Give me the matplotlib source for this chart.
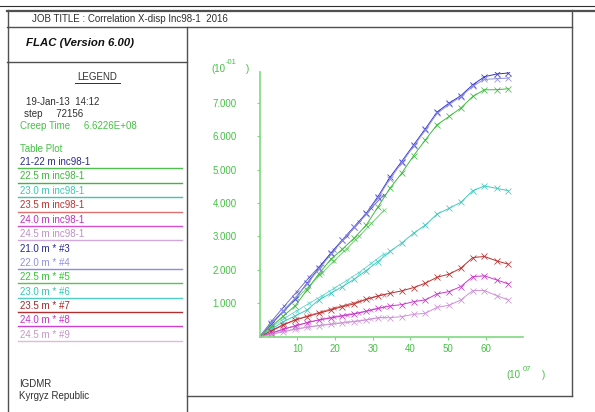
import matplotlib.pyplot as plt
from matplotlib.lines import Line2D

plt.rcParams['font.family'] = ['Liberation Sans', 'DejaVu Sans']

W, H = 595, 412

# model histories (creep time, 10^07) -- x positions of the history points
t_hist = [0.0, 3.1, 6.3, 9.4, 12.6, 15.7, 18.9, 22.0, 25.1, 28.3, 31.4,
          34.6, 37.7, 40.9, 44.0, 47.1, 50.3, 53.4, 56.6, 59.7, 62.9, 66.0]
h3 = [0, 0.38, 0.76, 1.13, 1.60, 2.05, 2.50, 2.90, 3.29, 3.69, 4.19,
      4.77, 5.24, 5.74, 6.22, 6.72, 6.99, 7.21, 7.54, 7.78, 7.86, 7.89]
h4 = [0, 0.40, 0.78, 1.15, 1.58, 2.02, 2.46, 2.88, 3.27, 3.66, 4.15,
      4.72, 5.20, 5.70, 6.18, 6.68, 6.95, 7.18, 7.50, 7.70, 7.72, 7.74]
h5 = [0, 0.30, 0.62, 0.92, 1.40, 1.88, 2.32, 2.62, 2.95, 3.34, 3.88,
      4.44, 4.89, 5.42, 5.89, 6.34, 6.59, 6.84, 7.19, 7.39, 7.39, 7.42]
h6 = [0, 0.22, 0.45, 0.62, 0.80, 1.10, 1.30, 1.50, 1.72, 1.98, 2.25,
      2.55, 2.80, 3.10, 3.34, 3.67, 3.84, 4.02, 4.37, 4.51, 4.44, 4.37]
h7 = [0, 0.17, 0.35, 0.50, 0.60, 0.70, 0.80, 0.90, 0.98, 1.12, 1.22,
      1.30, 1.37, 1.47, 1.60, 1.78, 1.87, 2.05, 2.37, 2.40, 2.27, 2.17]
h8 = [0, 0.10, 0.22, 0.32, 0.42, 0.50, 0.56, 0.62, 0.68, 0.76, 0.85,
      0.92, 0.96, 1.05, 1.10, 1.28, 1.35, 1.50, 1.80, 1.82, 1.70, 1.58]
h9 = [0, 0.07, 0.15, 0.22, 0.28, 0.33, 0.37, 0.41, 0.45, 0.50, 0.57,
      0.57, 0.60, 0.67, 0.70, 0.88, 0.94, 1.10, 1.38, 1.38, 1.23, 1.10]

# inclinometer inc98-1 tables
t_tab = [0.0, 3.3, 6.6, 9.9, 13.2, 16.5, 19.8, 23.1, 26.4, 29.7, 33.0]
tab_21 = [0, 0.48, 0.92, 1.35, 1.78, 2.18, 2.60, 3.00, 3.42, 3.85, 4.25]
tab_225 = [0, 0.40, 0.78, 1.15, 1.52, 1.90, 2.27, 2.63, 3.00, 3.39, 3.78]
tab_23 = [0, 0.30, 0.55, 0.78, 1.00, 1.22, 1.45, 1.68, 1.92, 2.20, 2.48]
tab_235 = [0, 0.20, 0.38, 0.52, 0.64, 0.75, 0.86, 0.96, 1.06, 1.16, 1.26]
tab_24 = [0, 0.12, 0.24, 0.34, 0.44, 0.52, 0.60, 0.66, 0.72, 0.80, 0.88]
tab_245 = [0, 0.08, 0.16, 0.24, 0.30, 0.35, 0.40, 0.44, 0.48, 0.53, 0.58]

x_ticks = [10, 20, 30, 40, 50, 60]
y_ticks = [1, 2, 3, 4, 5, 6, 7]

tab_names = ['21-22 m inc98-1', '22.5 m inc98-1', '23.0 m inc98-1',
             '23.5 m inc98-1', '24.0 m inc98-1', '24.5 m inc98-1']
hist_names = ['21.0 m * #3', '22.0 m * #4', '22.5 m * #5', '23.0 m * #6',
              '23.5 m * #7', '24.0 m * #8', '24.5 m * #9']

green = '#46c046'
axgreen = '#80d880'
tab_cols = ['#4646c0', '#46c046', '#46ccc4', '#d04646', '#cc46cc', '#cc9ad6']
tab_text = ['#2c2c8c', '#3cb83c', '#3cc8b4', '#c03030', '#c030c0', '#c090c8']
tab_line = ['#50c050', '#3cb83c', '#3cc8b4', '#e07070', '#d050d0', '#d0a8dc']
hist_cols = ['#3434c8', '#9090ea', '#40bc40', '#40cac2', '#bc3030', '#cc38cc', '#cc92d6']
hist_text = ['#28288c', '#9090e0', '#32c832', '#32c8b4', '#a02828', '#c832c8', '#c896c8']
hist_line = [None, '#8c8ce8', '#50c850', '#50d0c0', '#b03030', '#d040d0', '#e0b8e0']

fig = plt.figure(figsize=(W / 100, H / 100), dpi=100)


def fx(x):
    return x / W


def fy(y):
    return 1 - y / H


def hline(y, x0, x1, lw=1.0, c='#505050'):
    fig.add_artist(Line2D([fx(x0), fx(x1)], [fy(y), fy(y)], lw=lw, color=c))


def vline(x, y0, y1, lw=1.0, c='#505050'):
    fig.add_artist(Line2D([fx(x), fx(x)], [fy(y0), fy(y1)], lw=lw, color=c))


def txt(x, y, s, c='#303030', size=7, **kw):
    fig.text(fx(x), fy(y), s, color=c, fontsize=size, va='center', ha='left', **kw)


# page frame
hline(5.5, 0, 595, lw=0.8, c='#303030')
hline(10.5, 7, 595, lw=1.6, c='#505050')
vline(7.5, 10, 412)
hline(27, 7, 571.5)
vline(571.5, 10, 396)
hline(62, 7, 187)
vline(187, 27, 412)
hline(396, 187, 571.5)

# header and legend panel
txt(32, 19, 'JOB TITLE : Correlation X-disp Inc98-1  2016', size=7)
txt(26, 43, 'FLAC (Version 6.00)', c='#101010', size=8.2, weight='bold', style='italic')
fig.text(fx(97), fy(77), 'LEGEND', color='#303030', fontsize=7, ha='center', va='center')
hline(82.5, 75, 119.5, lw=0.7, c='#303030')
txt(26, 102, '19-Jan-13  14:12')
txt(24, 114, 'step     72156')
txt(20, 126, 'Creep Time     6.6226E+08', c=green)
txt(20, 149, 'Table Plot', c=green)

row_y = 162.0
for name, tc, lc in zip(tab_names, tab_text, tab_line):
    txt(20, row_y, name, c=tc)
    hline(row_y + 6.2, 18, 182, lw=1.0, c=lc)
    row_y += 14.45
for name, tc, lc in zip(hist_names, hist_text, hist_line):
    txt(20, row_y, name, c=tc)
    if lc is not None:
        hline(row_y + 6.2, 18, 182, lw=1.0, c=lc)
    row_y += 14.3

txt(19, 384, 'IGDMR')
txt(19, 396, 'Kyrgyz Republic')

# plot area
ax = fig.add_axes([fx(259.6), fy(336.7), (523.3 - 259.6) / W, (336.7 - 71.7) / H])
ax.set_xlim(0, 70)
ax.set_ylim(0, 7.93)

for t_y, c in zip([tab_21, tab_225, tab_23, tab_235, tab_24, tab_245], tab_cols):
    ax.plot(t_tab, t_y, color=c, lw=0.65, marker='x', ms=3.5, mew=0.5, alpha=0.8)
for h_y, c in zip([h3, h4, h5, h6, h7, h8, h9], hist_cols):
    ax.plot(t_hist, h_y, color=c, lw=0.7, marker='x', ms=4.5, mew=0.55)

for s in ['top', 'right']:
    ax.spines[s].set_visible(False)
for s in ['left', 'bottom']:
    ax.spines[s].set_color(axgreen)
    ax.spines[s].set_linewidth(1.2)

ax.set_xticks(x_ticks)
ax.set_xticklabels([str(v) for v in x_ticks])
ax.set_yticks(y_ticks)
ax.set_yticklabels(['%.3f' % v for v in y_ticks])
ax.tick_params(axis='both', colors=axgreen, labelcolor=green, labelsize=7,
               length=2.5, width=0.8, direction='out')
ax.tick_params(axis='y', pad=14)
ax.tick_params(axis='x', pad=2.5)

# axis scale labels
txt(211.5, 69, '(10', c=green)
txt(226, 63, '-01', c=green, size=5.5)
txt(246, 69, ')', c=green)
txt(506.5, 375, '(10', c=green)
txt(523, 369.5, '07', c=green, size=5.5)
txt(542, 375, ')', c=green)

fig.savefig('out.png', dpi=100)
